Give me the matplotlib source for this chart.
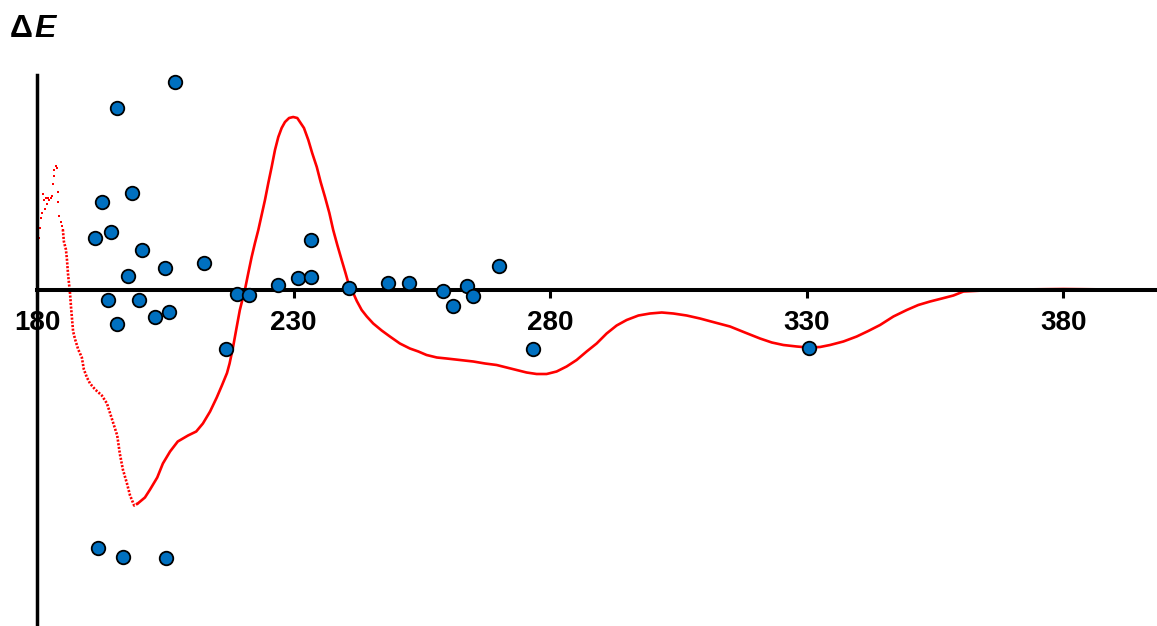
import matplotlib
matplotlib.use("Agg")
import matplotlib.pyplot as plt

# Scatter points (wavelength, ΔE)
scatter_x = [195.6, 206.9, 192.6, 198.5, 191.3, 194.4, 200.4, 197.7, 204.9, 212.5,
             193.8, 199.8, 195.6, 203.0, 205.7, 216.8, 218.9, 221.3, 226.9, 230.8,
             233.4, 233.4, 240.8, 248.4, 252.5, 259.1, 261.1, 263.8, 265.0, 270.0,
             276.6, 330.5, 191.9, 196.7, 205.1]
scatter_y = [18.2, 20.8, 8.8, 9.7, 5.2, 5.8, 4.0, 1.4, 2.2, 2.7,
             -1.0, -1.0, -3.4, -2.7, -2.2, -5.9, -0.4, -0.5, 0.5, 1.2,
             1.3, 5.0, 0.2, 0.7, 0.7, -0.1, -1.6, 0.4, -0.6, 2.4,
             -5.9, -5.8, -25.8, -26.7, -26.8]

# Red CD curve: noisy start (sparse dots)
noise_x = [180.2, 180.35, 180.55, 180.75, 180.9, 181.1, 181.3, 181.5, 181.7, 181.9,
           182.1, 182.3, 182.7, 182.9, 183.1, 183.2, 183.3, 183.7, 183.9, 184.0,
           184.1, 184.2, 184.6, 184.8, 185.0]
noise_y = [3.6, 5.2, 6.2, 7.2, 7.7, 9.6, 9.0, 8.1, 9.2, 8.6,
           9.2, 9.0, 9.2, 9.4, 10.6, 11.4, 12.0, 12.4, 12.2, 9.8,
           8.8, 7.4, 6.8, 6.4, 6.0]

# dotted descending part
dot_x = [185.0, 185.2, 185.6, 185.8, 186.0, 186.2, 186.4, 186.6, 186.8, 187.0, 187.4,
         188.0, 188.7, 189.1, 189.7, 190.3, 191.3, 192.6, 193.6, 194.6, 195.6,
         196.1, 196.7, 197.5, 198.1, 198.9, 199.6]
dot_y = [6.0, 4.8, 4.0, 3.0, 1.6, 0.6, -0.4, -1.8, -3.0, -4.2, -5.0,
         -6.0, -6.8, -8.0, -8.8, -9.4, -10.0, -10.6, -11.4, -13.0, -14.6,
         -16.4, -18.0, -19.4, -20.6, -21.6, -21.4]

# continuous part
line_x = [199.6, 201.0, 202.0, 203.4, 204.5, 205.9, 207.4, 209.4, 211.0, 212.3,
          213.7, 215.0, 216.0, 217.0, 217.5, 218.2, 218.8, 219.5,
          220.5, 221.15, 221.8, 222.45, 223.1, 223.75, 224.4, 225.05, 225.7, 226.35,
          227.0, 227.65, 228.3, 229.1, 229.9, 230.7, 231.35, 232.0, 232.85, 233.6,
          234.5, 235.25, 236.1, 236.95, 237.7, 238.5, 239.35, 240.1, 240.65, 241.6,
          242.3, 243.25, 244.25, 245.5, 247.15, 248.75, 250.7, 252.65, 254.3, 255.9,
          257.9, 259.8, 262.4, 265.0, 267.3, 269.55, 271.5, 273.45, 275.4, 277.35,
          279.3, 281.25, 283.2, 285.15, 287.1, 289.05, 291.0, 292.95, 294.9, 297.2,
          299.45, 301.75, 304.0, 306.6, 309.2, 312.1, 315.05, 317.95, 320.9, 323.2,
          325.45, 328.05, 330.3, 332.6, 334.55, 337.15, 339.75, 342.0, 344.3, 346.9,
          349.5, 351.75, 354.05, 356.35, 358.6, 360.55, 364.45, 370.95, 380.0, 390.0,
          398.3]
line_y = [-21.4, -20.8, -20.0, -18.8, -17.4, -16.2, -15.2, -14.6, -14.2, -13.4,
          -12.2, -10.8, -9.6, -8.35, -7.4, -5.7, -4.0, -2.05,
          0.0, 1.65, 3.25, 4.65, 5.95, 7.45, 8.95, 10.65, 12.25, 13.95,
          15.25, 16.15, 16.75, 17.15, 17.25, 17.15, 16.65, 16.15, 14.95, 13.65,
          12.25, 10.75, 9.25, 7.65, 5.95, 4.45, 2.95, 1.65, 0.65, -0.35,
          -1.15, -2.05, -2.7, -3.4, -4.1, -4.7, -5.4, -5.9, -6.2, -6.55,
          -6.8, -6.9, -7.05, -7.2, -7.4, -7.55, -7.8, -8.05, -8.3, -8.45,
          -8.45, -8.2, -7.7, -7.05, -6.2, -5.4, -4.4, -3.6, -3.05, -2.6,
          -2.4, -2.3, -2.4, -2.6, -2.9, -3.3, -3.7, -4.3, -4.9, -5.3,
          -5.55, -5.7, -5.8, -5.75, -5.55, -5.2, -4.7, -4.15, -3.55, -2.7,
          -2.05, -1.55, -1.2, -0.9, -0.6, -0.2, -0.1, 0.0, 0.05, 0.0,
          0.0]

xticks = [180, 230, 280, 330, 380]

W, H = 1157, 626
fig = plt.figure(figsize=(W / 100, H / 100), dpi=100)
ax = fig.add_axes([37.2 / W, 0.0, 1 - 37.2 / W, 1 - 75 / H])
ax.set_xlim(180, 180 + (W - 37.2) / 5.13)
ax.set_ylim(-33.65, 21.45)

red = "#FF0000"
ax.plot(noise_x, noise_y, linestyle="none", marker="s", markersize=1.6,
        color=red, markeredgewidth=0, zorder=2)
ax.plot(dot_x, dot_y, color=red, linewidth=1.9, linestyle=(0, (0.8, 0.6)), zorder=2)
ax.plot(line_x, line_y, color=red, linewidth=1.9, zorder=2,
        solid_joinstyle="round")

ax.scatter(scatter_x, scatter_y, s=95, color="#0070C0", edgecolor="black",
           linewidth=1.3, zorder=5, clip_on=False)

for s in ["top", "right"]:
    ax.spines[s].set_visible(False)
ax.spines["bottom"].set_position(("data", 0))
ax.spines["bottom"].set_linewidth(2.9)
ax.spines["left"].set_linewidth(2.5)
ax.spines["bottom"].set_zorder(3)
ax.spines["left"].set_zorder(3)

ax.set_xticks(xticks)
ax.set_xticklabels([str(t) for t in xticks])
ax.tick_params(axis="x", direction="out", length=6, width=2.2, pad=9,
               labelsize=20)
for lab in ax.get_xticklabels():
    lab.set_fontfamily("Liberation Sans")
    lab.set_fontweight("bold")
ax.set_yticks([])

fig.text(10 / W, 1 - 37 / H, "Δ", fontsize=23, fontweight="bold",
         family="Liberation Sans", ha="left", va="baseline")
fig.text(34 / W, 1 - 37 / H, "E", fontsize=23, fontweight="bold", style="italic",
         family="Liberation Sans", ha="left", va="baseline")

fig.savefig("out.png", dpi=100)
